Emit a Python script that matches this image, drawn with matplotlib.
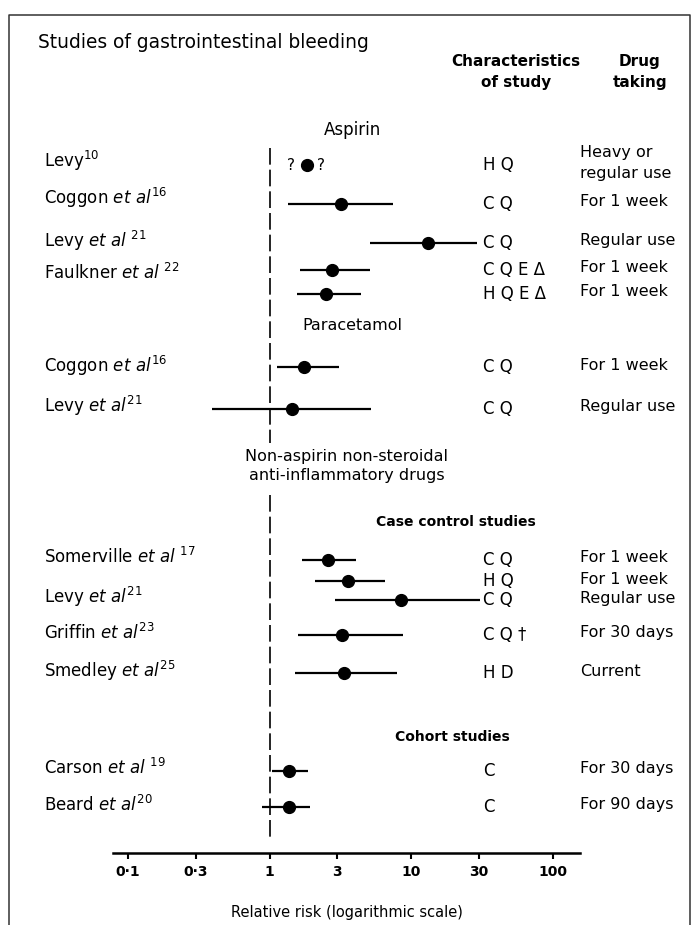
import numpy as np
import matplotlib.pyplot as plt
from matplotlib.lines import Line2D

W, H = 693, 925

# relative risk with confidence limits (first row: point only)
rr = [1.82, 3.16, 13.2, 2.76, 2.48, 1.75, 1.43, 2.57, 3.55, 8.4, 3.22, 3.36, 1.37, 1.37]
lo = [np.nan, 1.35, 5.1, 1.64, 1.55, 1.12, 0.39, 1.70, 2.09, 2.89, 1.59, 1.52, 1.04, 0.88]
hi = [np.nan, 7.45, 28.9, 5.1, 4.38, 3.1, 5.16, 4.06, 6.5, 30.5, 8.67, 7.95, 1.87, 1.92]
row_y = [165, 204, 243, 270, 294, 367, 409, 560, 581, 600, 635, 673, 771, 807]

studies = [r"Levy$^{10}$", r"Coggon $\mathit{et\ al}^{16}$", r"Levy $\mathit{et\ al}\ ^{21}$",
           r"Faulkner $\mathit{et\ al}\ ^{22}$",
           r"Coggon $\mathit{et\ al}^{16}$", r"Levy $\mathit{et\ al}^{21}$",
           r"Somerville $\mathit{et\ al}\ ^{17}$", r"Levy $\mathit{et\ al}^{21}$",
           r"Griffin $\mathit{et\ al}^{23}$", r"Smedley $\mathit{et\ al}^{25}$",
           r"Carson $\mathit{et\ al}\ ^{19}$", r"Beard $\mathit{et\ al}^{20}$"]
study_y = [160, 197, 240, 272, 365, 405, 556, 596, 632, 670, 767, 804]
characteristics = ["H Q", "C Q", "C Q", "C Q E Δ", "H Q E Δ", "C Q", "C Q",
                   "C Q", "H Q", "C Q", "C Q †", "H D", "C", "C"]
drug = ["Heavy or\nregular use", "For 1 week", "Regular use", "For 1 week", "For 1 week",
        "For 1 week", "Regular use", "For 1 week", "For 1 week", "Regular use",
        "For 30 days", "Current", "For 30 days", "For 90 days"]

ticks = [0.1, 0.3, 1, 3, 10, 30, 100]
tick_labels = ["0·1", "0·3", "1", "3", "10", "30", "100"]

rr = np.array(rr)
lo = np.array(lo)
hi = np.array(hi)
row_y = np.array(row_y)


def fx(x):
    return x / W


def fy(y):
    return 1 - y / H


fig = plt.figure(figsize=(W / 100, H / 100), dpi=100)
ax = fig.add_axes([fx(113), fy(853), fx(580) - fx(113), 853 / H])
ax.set_xscale('log')
ax.set_xlim(0.0783, 154.9)
ax.set_ylim(853, 0)

# point estimates and intervals
ok = ~np.isnan(lo)
ax.errorbar(rr[ok], row_y[ok], xerr=[rr[ok] - lo[ok], hi[ok] - rr[ok]], fmt='o',
            color='black', ms=8.5, elinewidth=1.6, capsize=0)
ax.plot(rr[~ok], row_y[~ok], 'o', color='black', ms=8.5)
for x, y in zip(rr[~ok], row_y[~ok]):
    ax.annotate("?", (x, y), xytext=(-11, 0), textcoords='offset points',
                ha='center', va='center', fontsize=11)
    ax.annotate("?", (x, y), xytext=(10, 0), textcoords='offset points',
                ha='center', va='center', fontsize=11)

# line of no effect
ax.vlines(1, 148, 443, color='black', lw=1.2, linestyles=(0, (10, 3)))
ax.vlines(1, 495, 840, color='black', lw=1.2, linestyles=(0, (10, 3)))

for s in ['top', 'left', 'right']:
    ax.spines[s].set_visible(False)
ax.spines['bottom'].set_linewidth(1.8)
ax.set_yticks([])
ax.set_xticks(ticks)
ax.set_xticklabels(tick_labels, fontsize=10, fontweight='bold')
ax.minorticks_off()
ax.tick_params(axis='x', direction='out', length=4, width=1.5, pad=5)
ax.set_xlabel("Relative risk (logarithmic scale)", fontsize=10.5, labelpad=18)
ax.patch.set_visible(False)

# text columns
for name, y in zip(studies, study_y):
    fig.text(fx(44), fy(y + 7), name, fontsize=12, ha='left', va='baseline')
for c, y in zip(characteristics, row_y):
    fig.text(fx(483), fy(y), c, fontsize=12, ha='left', va='center')
for d, y in zip(drug, row_y):
    fig.text(fx(580), fy(y - 2), d, fontsize=11.5, ha='left', va='center', linespacing=1.45)

fig.text(fx(38), fy(42), "Studies of gastrointestinal bleeding", fontsize=13.4,
         ha='left', va='center')
fig.text(fx(516), fy(72), "Characteristics\nof study", fontsize=11, fontweight='bold',
         ha='center', va='center', linespacing=1.5)
fig.text(fx(640), fy(72), "Drug\ntaking", fontsize=11, fontweight='bold',
         ha='center', va='center', linespacing=1.5)

fig.text(fx(352), fy(130), "Aspirin", fontsize=12, ha='center', va='center')
fig.text(fx(352), fy(325), "Paracetamol", fontsize=11.5, ha='center', va='center')
fig.text(fx(347), fy(466), "Non-aspirin non-steroidal\nanti-inflammatory drugs",
         fontsize=11.5, ha='center', va='center', linespacing=1.3)
fig.text(fx(456), fy(522), "Case control studies", fontsize=10, fontweight='bold',
         ha='center', va='center')
fig.text(fx(452), fy(737), "Cohort studies", fontsize=10, fontweight='bold',
         ha='center', va='center')

# frame round the panel
fig.add_artist(Line2D([fx(9), fx(9), fx(690), fx(690)], [0, fy(15), fy(15), 0],
                      transform=fig.transFigure, color='#333333', lw=1.1))

fig.savefig('out.png', dpi=100)
